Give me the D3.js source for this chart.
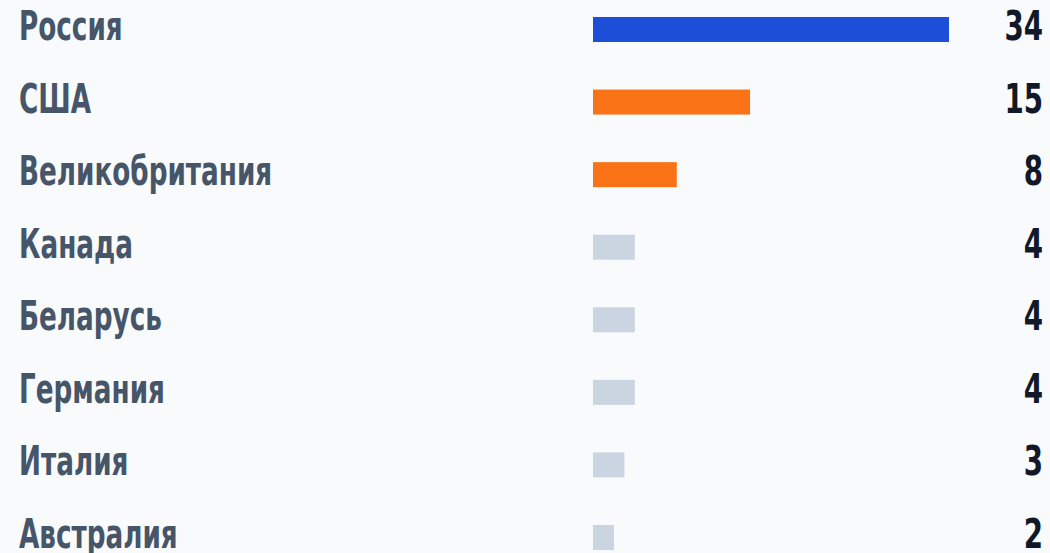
<!DOCTYPE html>
<html lang="ru">
  <head>
    <meta charset="utf-8">
    <title>Страны</title>
    <script type="text/javascript" src="https://cdn.jsdelivr.net/npm/d3@7"></script>
    <style>
      html, body { margin: 0; padding: 0; background: #f8fafc; }
      svg { display: block; }
    </style>
  </head>
  <body>
    <script type="text/javascript">

    var w = 1050;
    var h = 553;

    var countries = ["Россия", "США", "Великобритания", "Канада", "Беларусь", "Германия", "Италия", "Австралия"];
    var counts = [34, 15, 8, 4, 4, 4, 3, 2];
    var barColors = ["#1d4ed8", "#f97316", "#f97316", "#cbd5e1", "#cbd5e1", "#cbd5e1", "#cbd5e1", "#cbd5e1"];

    var font = "'DejaVu Sans Condensed', 'DejaVu Sans', sans-serif";
    var barH = 25;
    var squeeze = 0.73; // narrow the glyphs, no condensed webfont offline

    var xScale = d3.scaleLinear()
                   .domain([0, 34])
                   .range([593, 949]);

    var yScale = d3.scalePoint()
                   .domain(countries)
                   .range([29.5, 537.5]);

    var mySvg = d3.select("body")
                  .append("svg")
                  .attr("width", w)
                  .attr("height", h);

    mySvg.append("rect")
         .attr("width", w)
         .attr("height", h)
         .attr("fill", "#f8fafc");

    var rows = mySvg.selectAll("g.row")
                    .data(countries)
                    .enter()
                    .append("g")
                    .attr("class", "row");

    rows.append("text")
        .text(function(d) { return d; })
        .attr("transform", function(d) {
          return "translate(19," + (yScale(d) + 10.5) + ") scale(" + squeeze + ",1)";
        })
        .attr("fill", "#475569")
        .attr("font-family", font)
        .attr("font-weight", "bold")
        .attr("font-size", "40px");

    rows.append("rect")
        .attr("x", xScale(0))
        .attr("y", function(d) { return yScale(d) - barH / 2; })
        .attr("width", function(d, i) { return xScale(counts[i]) - xScale(0); })
        .attr("height", barH)
        .attr("fill", function(d, i) { return barColors[i]; });

    rows.append("text")
        .text(function(d, i) { return counts[i]; })
        .attr("transform", function(d) {
          return "translate(1043," + (yScale(d) + 10.5) + ") scale(0.77,1)";
        })
        .attr("text-anchor", "end")
        .attr("fill", "#111827")
        .attr("font-family", font)
        .attr("font-weight", "bold")
        .attr("font-size", "40px");

    </script>
  </body>
</html>
